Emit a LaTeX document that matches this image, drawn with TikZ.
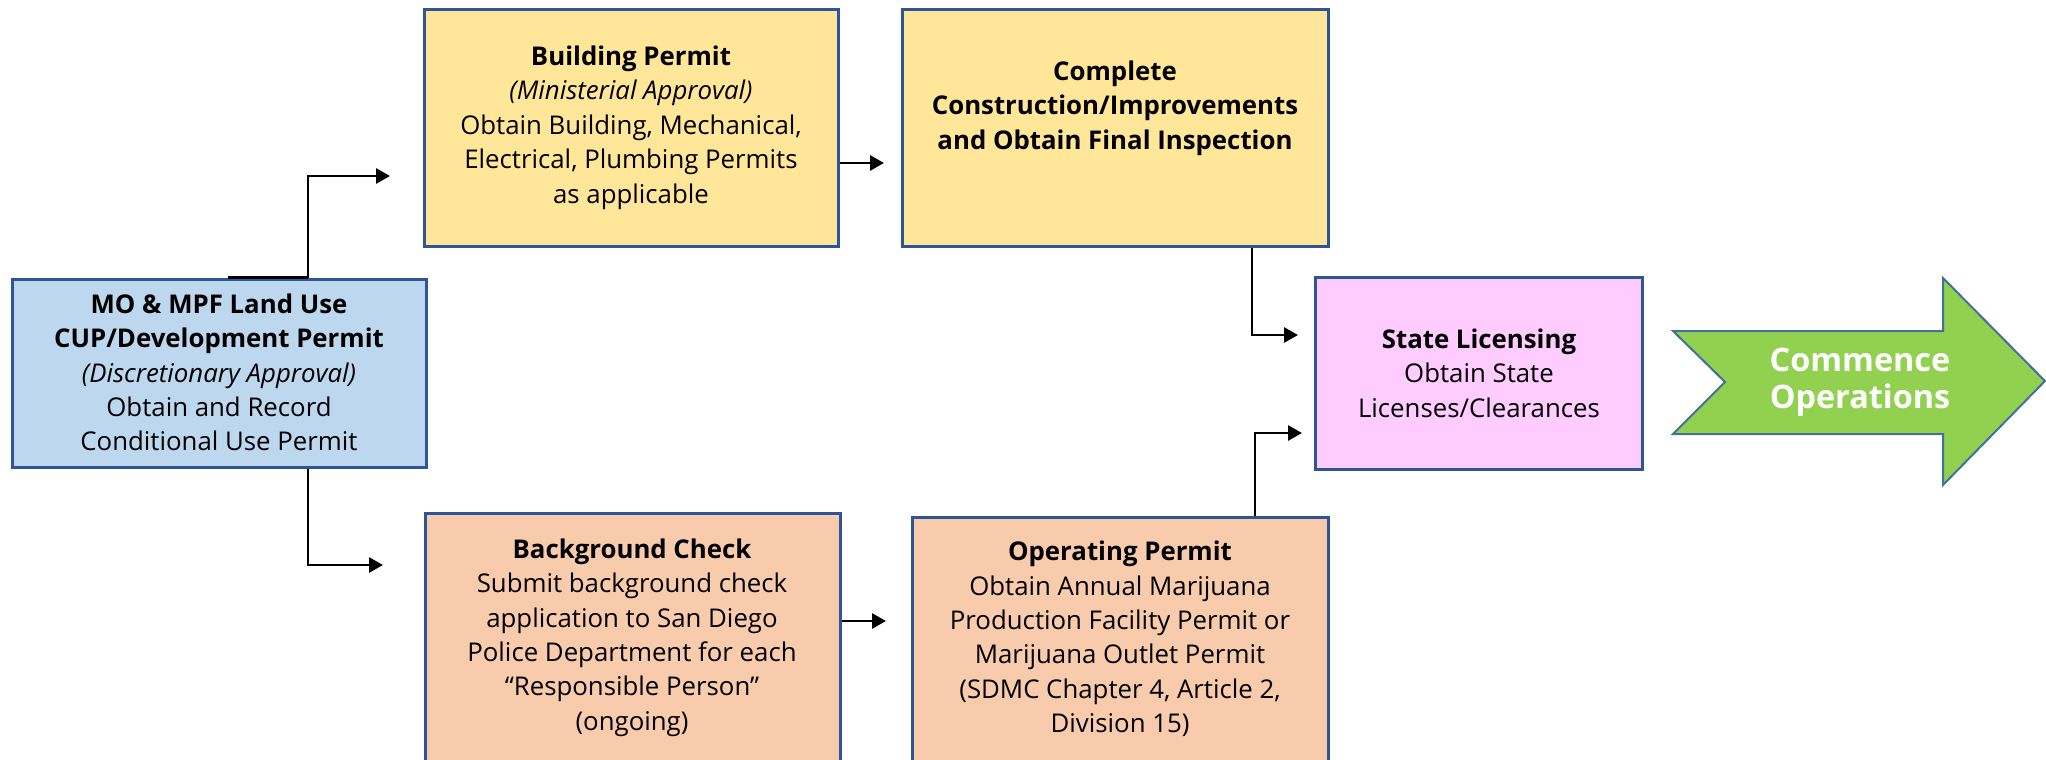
\documentclass[tikz,border=0pt]{standalone}
\usepackage{fontspec}
\setmainfont{Open Sans}
\usetikzlibrary{arrows.meta,calc}
\definecolor{bordc}{HTML}{2F5597}
\definecolor{bluef}{HTML}{BDD7EE}
\definecolor{yellf}{HTML}{FFE699}
\definecolor{pinkf}{HTML}{FFCCFF}
\definecolor{salmf}{HTML}{F8CBAD}
\definecolor{greenf}{HTML}{92D050}
\definecolor{arrbord}{HTML}{41719C}
\tikzset{
  boxn/.style={draw=bordc, line width=1.5pt, inner sep=0pt, rectangle},
  txt/.style={align=center, inner sep=0pt, font=\fontsize{12.9}{17.2}\selectfont},
  conn/.style={draw=black, line width=1.4pt, -{Triangle[length=7pt,width=7.5pt]}},
}
\begin{document}
\begin{tikzpicture}[x=0.5pt,y=-0.5pt]
\useasboundingbox (0,0) rectangle (2046,760);
\clip (0,0) rectangle (2046,760);
% boxes
\node[boxn, fill=bluef, minimum width=207pt, minimum height=94pt] (cup) at (219,373) {};
\node[boxn, fill=yellf, minimum width=207pt, minimum height=118.5pt] (bp) at (631,127.5) {};
\node[boxn, fill=yellf, minimum width=213pt, minimum height=118.5pt] (cc) at (1115,127.5) {};
\node[boxn, fill=pinkf, minimum width=163.5pt, minimum height=96pt] (sl) at (1478.5,373) {};
\node[boxn, fill=salmf, minimum width=207.5pt, minimum height=124.5pt] (bg) at (632.5,637.5) {};
\node[boxn, fill=salmf, minimum width=208pt, minimum height=122.5pt] (op) at (1120,639.5) {};
% texts
\node[txt] (cupT) at (219,372.5) {\textbf{MO \& MPF Land Use}\\\textbf{CUP/Development Permit}\\\textit{(Discretionary Approval)}\\Obtain and Record\\Conditional Use Permit};
\node[txt] (bpT) at (631,127.5) {\textbf{Building Permit}\\\textit{(Ministerial Approval)}\\Obtain Building, Mechanical,\\Electrical, Plumbing Permits\\as applicable};
\node[txt] (ccT) at (1115,108) {\textbf{Complete}\\\textbf{Construction/Improvements}\\\textbf{and Obtain Final Inspection}};
\node[txt] (slT) at (1479,373) {\textbf{State Licensing}\\Obtain State\\Licenses/Clearances};
\node[txt] (bgT) at (632,637.5) {\textbf{Background Check}\\Submit background check\\application to San Diego\\Police Department for each\\“Responsible Person”\\(ongoing)};
\node[txt] (opT) at (1120,639) {\textbf{Operating Permit}\\Obtain Annual Marijuana\\Production Facility Permit or\\Marijuana Outlet Permit\\(SDMC Chapter 4, Article 2,\\Division 15)};
% big arrow
\draw[fill=greenf, draw=arrbord, line width=1pt, line join=miter]
  (1673,331) -- (1943,331) -- (1943,278) -- (2045,381) -- (1943,485) -- (1943,434) -- (1673,434) -- (1725,382) -- cycle;
\node[align=center, inner sep=0pt, text=white, font=\fontsize{16.2}{18.5}\selectfont\bfseries] (coT) at (1860,382) {Commence\\Operations};
% connectors
\coordinate (t1) at (390,176);
\coordinate (t2) at (884,163);
\coordinate (t3) at (383,565);
\coordinate (t4) at (886,621);
\coordinate (t5) at (1298,335);
\coordinate (t6) at (1302,433);
\draw[line width=1.6pt] ([xshift=4.5pt]cup.north) -- ([xshift=44.5pt]cup.north);
\draw[conn] ([xshift=44.5pt]cup.north) |- (t1);
\draw[conn] (bp.east |- t2) -- (t2);
\draw[conn] ([xshift=44.5pt]cup.south) |- (t3);
\draw[conn] (bg.east |- t4) -- (t4);
\draw[conn] ([xshift=68.5pt]cc.south) |- (t5);
\draw[conn] ([xshift=67.5pt]op.north) |- (t6);
\end{tikzpicture}
\end{document}
